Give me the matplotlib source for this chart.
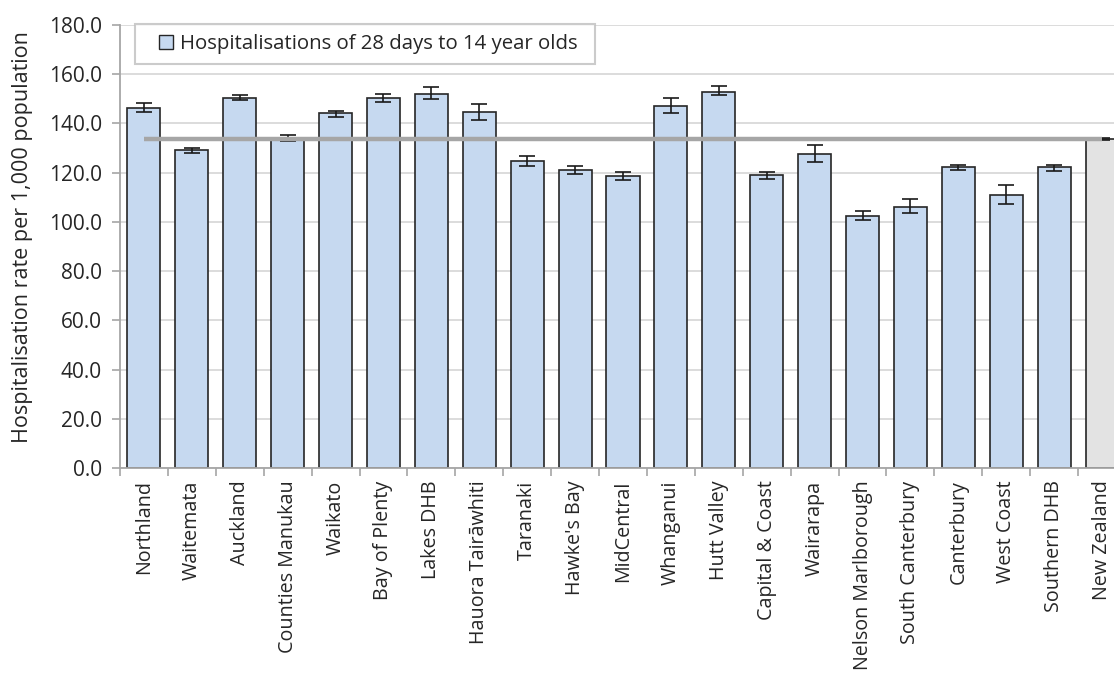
import matplotlib
matplotlib.use("Agg")
import matplotlib.pyplot as plt
import numpy as np
from matplotlib.lines import Line2D

categories = ["Northland", "Waitemata", "Auckland", "Counties Manukau", "Waikato",
              "Bay of Plenty", "Lakes DHB", "Hauora Tairāwhiti", "Taranaki", "Hawke's Bay",
              "MidCentral", "Whanganui", "Hutt Valley", "Capital & Coast", "Wairarapa",
              "Nelson Marlborough", "South Canterbury", "Canterbury", "West Coast",
              "Southern DHB", "New Zealand"]
rates = [146.2, 129.1, 150.5, 134.0, 144.3, 150.5, 152.0, 144.7, 124.9, 121.2,
         118.5, 147.2, 152.9, 119.2, 127.5, 102.4, 106.1, 122.3, 110.8, 122.3, 133.7]
ci_low = [144.5, 128.1, 149.4, 132.8, 142.6, 148.7, 149.8, 141.5, 122.7, 119.6,
          117.0, 144.1, 151.4, 117.6, 124.3, 100.8, 103.5, 121.1, 107.2, 120.7, 133.4]
ci_high = [148.3, 130.0, 151.4, 135.2, 145.2, 152.0, 154.7, 147.8, 126.9, 122.7,
           120.1, 150.5, 155.2, 120.1, 131.1, 104.6, 109.2, 123.3, 115.0, 123.3, 134.0]
nz_rate = 133.7
legend_label = "Hospitalisations of 28 days to 14 year olds"
y_label = "Hospitalisation rate per 1,000 population"
y_ticks = [0, 20, 40, 60, 80, 100, 120, 140, 160, 180]

plt.rcParams['font.family'] = ['Open Sans', 'DejaVu Sans']
text_color = '#262626'

fig = plt.figure(figsize=(11.14, 6.75), dpi=100)
ax = fig.add_axes([120/1114, 1-468/675, 1006/1114, 443/675])

x = np.arange(len(categories))
colors = ['#c6d9f0'] * (len(categories) - 1) + ['#e3e3e3']
rates_a = np.array(rates)
yerr = np.vstack([rates_a - np.array(ci_low), np.array(ci_high) - rates_a])

ax.bar(x, rates, width=0.69, color=colors, edgecolor='#262626', linewidth=1.2, zorder=2)
ax.errorbar(x, rates, yerr=yerr, fmt='none', ecolor='#1a1a1a', elinewidth=1.2,
            capsize=5.5, capthick=1.2, zorder=3)
ax.plot([x[0], x[-1]], [nz_rate, nz_rate], color='#a6a6a6', linewidth=3.2, zorder=4,
        solid_capstyle='butt')

ax.set_xlim(-0.5, len(categories) - 0.5)
ax.set_ylim(0, 180)
ax.set_yticks(y_ticks)
ax.set_yticklabels([f"{v:.1f}" for v in y_ticks])
ax.yaxis.grid(True, color='#d9d9d9', linewidth=1.3, zorder=0)
ax.set_axisbelow(True)

ax.set_xticks(x)
ax.set_xticklabels(categories, rotation=90)
ax.set_xticks(np.arange(-0.5, len(categories) + 0.5, 1), minor=True)
ax.tick_params(axis='x', which='major', length=0, pad=9, labelsize=14.2, labelcolor=text_color)
ax.tick_params(axis='x', which='minor', length=6, color='#a6a6a6', width=1.2)
ax.tick_params(axis='y', length=6, color='#a6a6a6', width=1.2, labelsize=15,
               labelcolor=text_color, pad=7)

for s in ['top', 'right']:
    ax.spines[s].set_visible(False)
for s in ['left', 'bottom']:
    ax.spines[s].set_color('#a6a6a6')
    ax.spines[s].set_linewidth(1.3)

ax.set_ylabel(y_label, fontsize=15.5, color=text_color)
ax.yaxis.set_label_coords((33 - 120) / 1006, (468 - 237) / 443)

handle = Line2D([], [], linestyle='none', marker='s', markersize=9.5,
                markerfacecolor='#c6d9f0', markeredgecolor='#262626', markeredgewidth=1.0)
leg_top = (468 - 24) / 443
leg = ax.legend([handle], [legend_label], loc='upper left',
                bbox_to_anchor=((135 - 120) / 1006, leg_top - 0.01, (595 - 135) / 1006, 0.01),
                mode='expand', borderaxespad=0, fancybox=False, frameon=True, fontsize=14.7,
                handlelength=2.0, handletextpad=-0.30, borderpad=0.5,
                labelcolor=text_color)
leg.get_frame().set_edgecolor('#bfbfbf')
leg.get_frame().set_linewidth(1.5)

fig.savefig("out.png", dpi=100)
